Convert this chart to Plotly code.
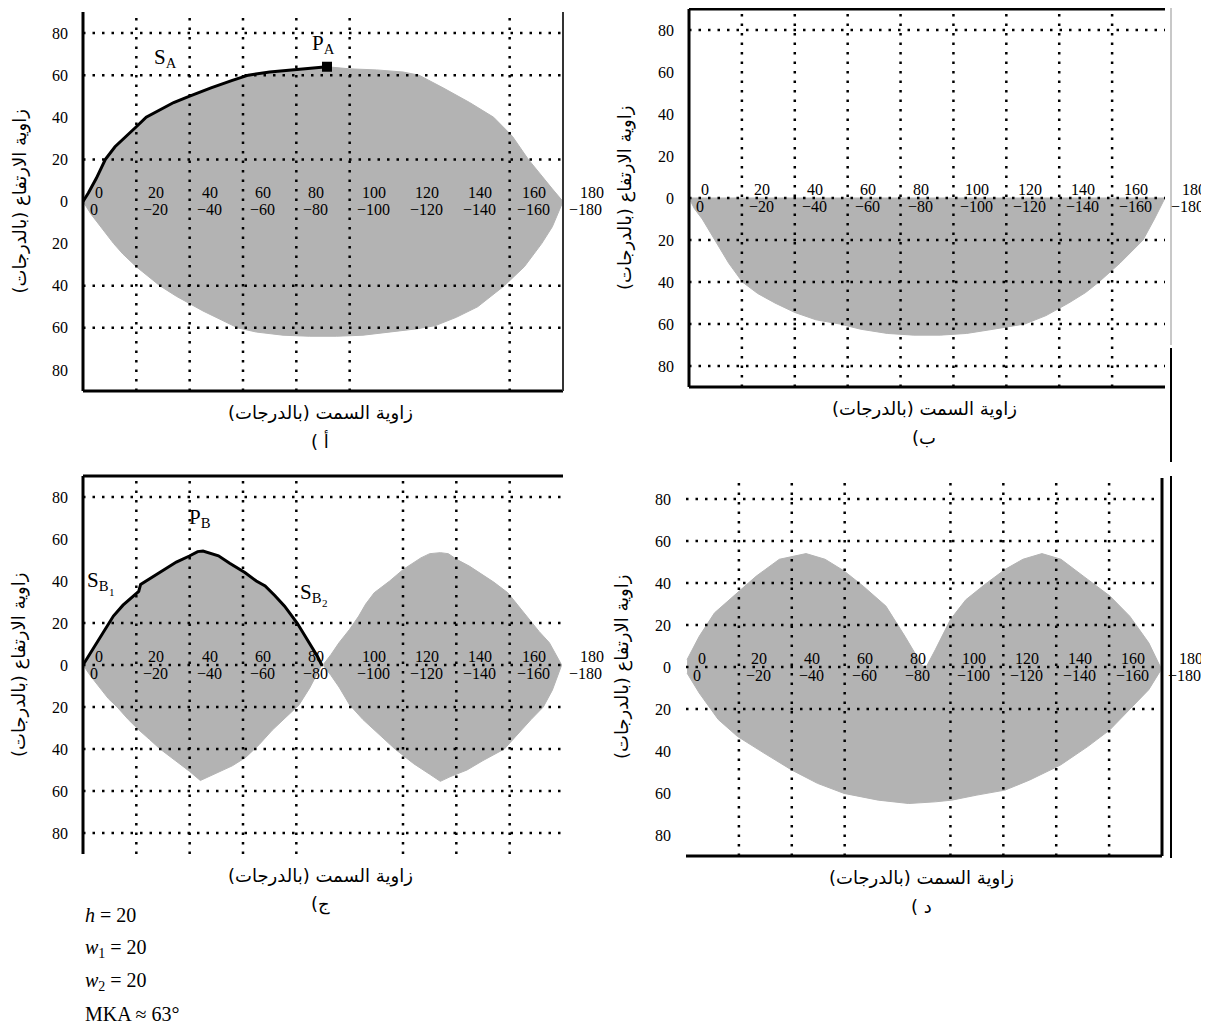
import plotly.graph_objects as go

# page is rendered with an 8px body margin; all geometry below is in page pixels
OFF = 8
PAGE_W, PAGE_H = 1209, 1032
W, H = PAGE_W - OFF, PAGE_H - 2 * OFF

# ---------------- data (degrees) ----------------
tick_top = [0, 20, 40, 60, 80, 100, 120, 140, 160]
tick_bottom = [0, -20, -40, -60, -80, -100, -120, -140, -160]
y_tickvals = [80, 60, 40, 20, 0, -20, -40, -60, -80]
y_ticktext = ["80", "60", "40", "20", "0", "20", "40", "60", "80"]

# Panel A (أ): path S_A and coverage region
sa_x = [0, 2, 5, 8.4, 12, 16, 20, 23.7, 28, 34, 40, 48, 56, 62, 70, 78, 84, 91.5]
sa_y = [0, 4, 11, 20, 26, 31, 35.5, 40, 43, 47, 50, 54, 57.5, 60, 61.5, 62.5, 63, 64]
a_upper_x = [100, 110, 120, 126, 135, 145, 154, 161, 167, 172, 176, 180]
a_upper_y = [63, 62.5, 61.5, 60, 54, 47, 40, 31, 20, 12, 6, 0]
a_lower_x = [0, 3, 6, 11.5, 15, 20, 28.8, 35, 45, 58, 65, 75, 85, 95, 105, 115, 125, 132, 140, 148, 158, 165.5, 172, 176, 180]
a_lower_y = [0, -6, -11, -20, -25, -31, -40, -45, -52, -60, -62, -63.5, -64, -64, -63.5, -62, -60.5, -59, -55, -50, -40, -31, -20, -12, 0]
pa_x, pa_y = [91.5], [64]

# Panel B (ب): region below horizon
b_lower_x = [0, 2, 5, 9.7, 15, 20.2, 26, 32.5, 40, 48, 57, 65, 75, 85, 95, 105, 115, 127, 135, 143.6, 150, 155, 163, 171.7, 176, 180]
b_lower_y = [0, -5, -10, -20, -31, -40, -45.5, -50, -54.5, -58, -60, -62.5, -64.5, -65.3, -65.3, -64.5, -62.5, -60, -56, -50, -45, -40, -31, -20, -10, 0]

# Panel C (ج): two lobes, path S_B1 -> P_B -> S_B2 on first lobe
sb_x = [0, 3, 5.5, 8, 11.4, 15, 20.9, 21.6, 26, 30.4, 35, 39.9, 43, 45, 50.8, 55, 60.7, 65, 68.3, 72, 75.6, 80.3, 83, 85.8, 88, 89.5]
sb_y = [0, 6, 11.3, 16, 23.3, 28.5, 35, 38.4, 42, 45.5, 49, 51.9, 54, 54.3, 52, 48.5, 44, 40, 37.6, 33, 28, 20, 14.5, 9, 4, 0]
c1_lower_x = [0, 3, 6, 9.5, 12.8, 17, 21, 25, 28.9, 34, 39.9, 44, 50, 56, 61, 66, 71, 76, 81, 85, 87.5, 89.5]
c1_lower_y = [0, -5.5, -10.5, -16, -20, -26, -31, -35.5, -40, -45, -50.6, -55, -51.5, -48, -44, -38, -31, -25, -19, -11, -5, 0]
c2_upper_x = [90, 93, 96, 100, 103.4, 106, 109.2, 115, 120.1, 126.7, 130, 134, 137, 140.1, 145, 148.6, 154, 159.3, 163, 167.6, 171, 174.9, 177.5, 179.5]
c2_upper_y = [0, 5, 10.6, 17, 23.3, 29, 34.4, 40, 45.5, 51, 53, 53.5, 53, 50.3, 47, 44, 39.5, 34.4, 28.5, 21.7, 16, 10.6, 5, 0]
c2_lower_x = [90, 93, 96, 100, 105, 110, 117, 124, 130, 134, 138, 144, 150, 158, 163, 168, 172.6, 176, 179.5]
c2_lower_y = [0, -5, -10.5, -19, -26, -32, -40, -47, -52, -55.4, -53, -50, -45.5, -40, -33, -26, -20, -12, 0]

# Panel D (د): merged region
d_upper_x = [0.4, 5, 10.8, 19.4, 26.6, 35.3, 45.4, 52.6, 59.8, 67, 75.6, 82.8, 90.3, 94.3, 100, 105.8, 113, 120.7, 127.4, 134.6, 141.8, 151.9, 160.3, 167.8, 175, 179.3]
d_upper_y = [3.5, 14.6, 25.8, 35.4, 43.3, 51.3, 54, 51.3, 45.7, 38.5, 29, 14.6, -1.3, 8.3, 22.6, 32, 39.3, 46.5, 51.3, 54, 51.3, 41.7, 33.8, 24.2, 11.5, 0.3]
d_lower_x = [0.4, 5, 12.2, 19.4, 29.5, 39.9, 49.7, 59.8, 72.7, 84.2, 94.3, 100.5, 110, 120.7, 130, 141.6, 151.9, 160.3, 167.8, 175, 179.3]
d_lower_y = [-2.9, -12.4, -25, -33, -41, -49, -55.4, -60.2, -63.4, -65, -64.2, -63.4, -61, -58.6, -53.8, -46.7, -37.9, -29.9, -20.4, -10.8, -2]

# visible dotted grid lines per panel
grid = {
    "A": ([20, 40, 60, 80, 100, 160], [80, 60, 20, -40, -60]),
    "B": ([20, 40, 60, 80, 100, 120, 140, 160], [80, 0, -20, -40, -60, -80]),
    "C": ([20, 40, 60, 80, 120, 140, 160], [80, 20, 0, -20, -40, -60, -80]),
    "D": ([20, 40, 60, 100, 120, 140, 160], [80, 60, 40, 20, 0, -20]),
}

x_title = "زاوية السمت (بالدرجات)"
y_title = "زاوية الارتفاع (بالدرجات)"
captions = {"A": "( أ", "B": "(ب", "C": "(ج", "D": "( د"}
params = ["<i>h</i> = 20", "<i>w</i><sub>1</sub> = 20", "<i>w</i><sub>2</sub> = 20", "MKA ≈ 63°"]

# ---------------- layout geometry (page pixels) ----------------
frames = {  # left, right, top, bottom
    "A": (83, 563, 12, 391),
    "B": (689, 1165, 9, 387),
    "C": (83, 563, 476, 854),
    "D": (686, 1162, 478, 856),
}
axes = {"A": ("x", "y"), "B": ("x2", "y2"), "C": ("x3", "y3"), "D": ("x4", "y4")}

def PX(x):
    return (x - OFF) / W

def PY(y):
    return 1 - (y - OFF) / H

SERIF = "Liberation Serif, Times New Roman, serif"
ARABIC = "DejaVu Sans, sans-serif"
GRAY = "#b3b3b3"

fig = go.Figure()

def poly(xs_top, ys_top, xs_bot, ys_bot, xa, ya):
    px = list(xs_top) + list(reversed(xs_bot))
    py = list(ys_top) + list(reversed(ys_bot))
    fig.add_trace(go.Scatter(x=px, y=py, xaxis=xa, yaxis=ya, mode="lines",
                             fill="toself", fillcolor=GRAY,
                             line=dict(color=GRAY, width=1), hoverinfo="skip",
                             showlegend=False))

# A
poly(sa_x + a_upper_x, sa_y + a_upper_y, a_lower_x, a_lower_y, "x", "y")
fig.add_trace(go.Scatter(x=sa_x, y=sa_y, xaxis="x", yaxis="y", mode="lines",
                         line=dict(color="black", width=3), showlegend=False))
fig.add_trace(go.Scatter(x=pa_x, y=pa_y, xaxis="x", yaxis="y", mode="markers",
                         marker=dict(symbol="square", size=10, color="black"),
                         showlegend=False))
# B
poly([b_lower_x[0], b_lower_x[-1]], [0, 0], b_lower_x, b_lower_y, "x2", "y2")
# C
poly(sb_x, sb_y, c1_lower_x, c1_lower_y, "x3", "y3")
poly(c2_upper_x, c2_upper_y, c2_lower_x, c2_lower_y, "x3", "y3")
fig.add_trace(go.Scatter(x=sb_x, y=sb_y, xaxis="x3", yaxis="y3", mode="lines",
                         line=dict(color="black", width=3), showlegend=False))
# D
poly(d_upper_x, d_upper_y, d_lower_x, d_lower_y, "x4", "y4")

layout = dict(width=W, height=H, margin=dict(l=0, r=0, t=0, b=0),
              paper_bgcolor="white", plot_bgcolor="rgba(0,0,0,0)",
              showlegend=False, autosize=False)

shapes = []
annotations = []
DOT = dict(color="black", width=2.5, dash="2.5px,7px")

for key, (l, r, t, b) in frames.items():
    xa, ya = axes[key]
    xname = "xaxis" + xa[1:]
    yname = "yaxis" + ya[1:]
    layout[xname] = dict(domain=[PX(l), PX(r)], range=[0, 180], showgrid=False,
                         zeroline=False, showticklabels=False, ticks="",
                         anchor=ya, fixedrange=True)
    layout[yname] = dict(domain=[PY(b), PY(t)], range=[-90, 90],
                         showgrid=False, zeroline=False, anchor=xa,
                         tickmode="array", tickvals=y_tickvals, ticktext=y_ticktext,
                         ticks="", ticklabelstandoff=14,
                         tickfont=dict(family=SERIF, size=16, color="black"),
                         fixedrange=True)
    gx, gy = grid[key]
    for gv in gx:
        shapes.append(dict(type="line", xref=xa, yref=ya + " domain", x0=gv, x1=gv,
                           y0=0, y1=1, line=DOT, layer="above"))
    for gv in gy:
        shapes.append(dict(type="line", xref=xa + " domain", yref=ya, x0=0, x1=1,
                           y0=gv, y1=gv, line=DOT, layer="above"))
    # in-plot azimuth labels on the horizon
    for tv, bv in zip(tick_top + [180], tick_bottom + [-180]):
        last = tv == 180
        annotations.append(dict(text=str(tv), x=tv, y=0, xref=xa, yref=ya,
                                xanchor="left", yanchor="middle",
                                xshift=15 if last else 10, yshift=9, showarrow=False,
                                font=dict(family=SERIF, size=16, color="black")))
        annotations.append(dict(text=str(bv).replace("-", "−"), x=tv, y=0, xref=xa, yref=ya,
                                xanchor="left", yanchor="middle",
                                xshift=4 if last else 5, yshift=-8, showarrow=False,
                                font=dict(family=SERIF, size=16, color="black")))
    cx = (l + r) / 2
    # axis titles and captions
    annotations.append(dict(text=x_title, x=PX(cx - 3), y=PY(b + 22),
                            xref="paper", yref="paper", xanchor="center", yanchor="middle",
                            showarrow=False, font=dict(family=ARABIC, size=18, color="black")))
    annotations.append(dict(text=captions[key], x=PX(cx - 3), y=PY(b + 50),
                            xref="paper", yref="paper", xanchor="center", yanchor="middle",
                            showarrow=False, font=dict(family=ARABIC, size=18, color="black")))
    annotations.append(dict(text=y_title, x=PX(l - 64), y=PY((t + b) / 2),
                            xref="paper", yref="paper", xanchor="center", yanchor="middle",
                            textangle=-90, showarrow=False,
                            font=dict(family=ARABIC, size=18, color="black")))

# frames
def fline(xref, yref, x0, x1, y0, y1, width=3, color="black"):
    shapes.append(dict(type="line", xref=xref, yref=yref, x0=x0, x1=x1, y0=y0, y1=y1,
                       line=dict(color=color, width=width), layer="above"))

# A: left, bottom, right(thin)
fline("x domain", "y domain", 0, 0, 0, 1)
fline("x domain", "y domain", 0, 1, 0, 0)
fline("x domain", "y domain", 1, 1, 0, 1, width=2, color="#333333")
# B: top, left, bottom
fline("x2 domain", "y2 domain", 0, 1, 1, 1)
fline("x2 domain", "y2 domain", 0, 0, 0, 1)
fline("x2 domain", "y2 domain", 0, 1, 0, 0)
# C: top, left
fline("x3 domain", "y3 domain", 0, 1, 1, 1)
fline("x3 domain", "y3 domain", 0, 0, 0, 1)
# D: bottom, right
fline("x4 domain", "y4 domain", 0, 1, 0, 0)
fline("x4 domain", "y4 domain", 1, 1, 0, 1)

# scan edge lines on the far right
for (y0, y1, col) in [(8, 345, "#c8c8c8"), (348, 462, "black"), (476, 858, "black")]:
    shapes.append(dict(type="line", xref="paper", yref="paper", x0=PX(1171), x1=PX(1171),
                       y0=PY(y0), y1=PY(y1), line=dict(color=col, width=2)))

# path labels
def lab(text, x, y, xa, ya, size=21):
    annotations.append(dict(text=text, x=x, y=y, xref=xa, yref=ya, showarrow=False,
                            xanchor="center", yanchor="middle",
                            font=dict(family=SERIF, size=size, color="black")))

lab("S<sub>A</sub>", 31, 68, "x", "y")
lab("P<sub>A</sub>", 90, 75, "x", "y")
lab("P<sub>B</sub>", 44, 70, "x3", "y3")
lab("S<sub>B</sub>", 5.5, 40, "x3", "y3")
lab("1", 10.8, 35, "x3", "y3", size=11)
lab("S<sub>B</sub>", 85.5, 34.5, "x3", "y3")
lab("2", 90.8, 29.5, "x3", "y3", size=11)

# parameters text
for i, ptxt in enumerate(params):
    annotations.append(dict(text=ptxt, x=PX(83), y=PY(915 + 33 * i),
                            xref="paper", yref="paper", xanchor="left", yanchor="middle",
                            showarrow=False, font=dict(family=SERIF, size=20, color="black")))

layout["shapes"] = shapes
layout["annotations"] = annotations
fig.update_layout(**layout)
fig.write_html("out.html")
